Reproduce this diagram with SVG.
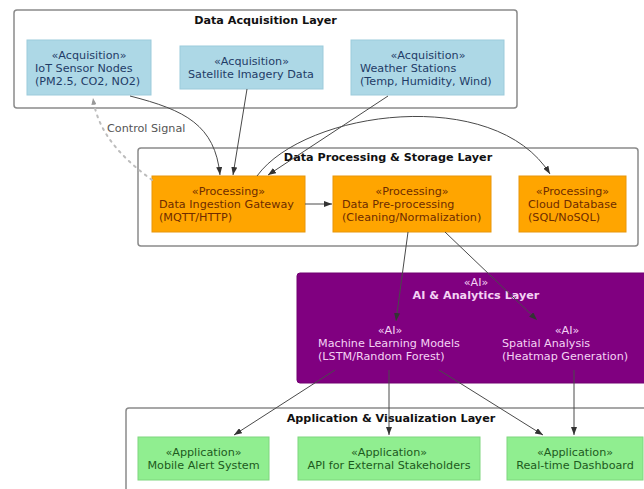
<svg xmlns="http://www.w3.org/2000/svg" width="644" height="489" viewBox="0 0 644 489">
<defs>
<style>
text{font-family:"DejaVu Sans","Liberation Sans",sans-serif;font-size:11.2px}
.title{font-weight:bold;fill:#111;text-anchor:middle}
.cluster{fill:#fff;stroke:#8a8a8a;stroke-width:1.5}
.acq rect{fill:#add8e6;stroke:#9ccbdb;stroke-width:1}
.acq text{fill:#1f3c66}
.proc rect{fill:#ffa500;stroke:#e8960a;stroke-width:1}
.proc text{fill:#6e2c00}
.ai text{fill:#f4d2f4}
.app rect{fill:#90ee90;stroke:#7fd67f;stroke-width:1}
.app text{fill:#1d5a1d}
.c{text-anchor:middle}
.edge{fill:none;stroke:#4a4a4a;stroke-width:1}
.ctrl{fill:none;stroke:#bdbdbd;stroke-width:2;stroke-dasharray:2 5;stroke-linecap:round}
</style>
<marker id="ah" viewBox="0 0 8 6" refX="8" refY="3" markerWidth="8" markerHeight="6" markerUnits="userSpaceOnUse" orient="auto">
<path d="M0,0 L8,3 L0,6 z" fill="#333"/>
</marker>
<marker id="ahg" viewBox="0 0 8 6" refX="8" refY="3" markerWidth="7" markerHeight="5" markerUnits="userSpaceOnUse" orient="auto">
<path d="M0,0 L8,3 L0,6 z" fill="#999"/>
</marker>
</defs>
<rect width="644" height="489" fill="#fff"/>

<g id="cluster-acquisition">
<rect class="cluster" x="14" y="10" width="503" height="98" rx="3"/>
<text class="title" x="265.5" y="24">Data Acquisition Layer</text>
</g>
<g id="cluster-processing">
<rect class="cluster" x="138" y="148" width="500" height="98" rx="3"/>
<text class="title" x="388" y="161">Data Processing &amp; Storage Layer</text>
</g>
<g id="cluster-ai">
<rect x="297" y="273" width="360" height="110" rx="3" fill="#800080" stroke="#700070" stroke-width="1"/>
<text class="c" x="476" y="286" fill="#f4d2f4">«AI»</text>
<text class="title" x="476" y="299" fill="#f4d2f4" style="fill:#f4d2f4">AI &amp; Analytics Layer</text>
</g>
<g id="cluster-application">
<rect class="cluster" x="126" y="408" width="530" height="95" rx="3"/>
<text class="title" x="391" y="422">Application &amp; Visualization Layer</text>
</g>

<g id="iot" class="acq">
<rect x="27" y="40" width="124" height="55"/>
<text class="c" x="89" y="59">«Acquisition»</text>
<text x="35" y="72">IoT Sensor Nodes</text>
<text x="35" y="85">(PM2.5, CO2, NO2)</text>
</g>
<g id="satellite" class="acq">
<rect x="180" y="46" width="143" height="43"/>
<text class="c" x="251.5" y="65">«Acquisition»</text>
<text x="188" y="78">Satellite Imagery Data</text>
</g>
<g id="weather" class="acq">
<rect x="351" y="40" width="153" height="55"/>
<text class="c" x="428" y="59">«Acquisition»</text>
<text x="360" y="72">Weather Stations</text>
<text x="360" y="85">(Temp, Humidity, Wind)</text>
</g>

<g id="gateway" class="proc">
<rect x="152" y="176" width="153" height="56"/>
<text class="c" x="228.5" y="195">«Processing»</text>
<text x="159" y="208">Data Ingestion Gateway</text>
<text x="159" y="221">(MQTT/HTTP)</text>
</g>
<g id="preprocessing" class="proc">
<rect x="333" y="176" width="158" height="56"/>
<text class="c" x="412" y="195">«Processing»</text>
<text x="342" y="208">Data Pre-processing</text>
<text x="342" y="221">(Cleaning/Normalization)</text>
</g>
<g id="clouddb" class="proc">
<rect x="519" y="176" width="107" height="56"/>
<text class="c" x="572.5" y="195">«Processing»</text>
<text x="528" y="208">Cloud Database</text>
<text x="528" y="221">(SQL/NoSQL)</text>
</g>

<g id="ml" class="ai">
<text class="c" x="390" y="334">«AI»</text>
<text x="318" y="347">Machine Learning Models</text>
<text x="318" y="360">(LSTM/Random Forest)</text>
</g>
<g id="spatial" class="ai">
<text class="c" x="567" y="334">«AI»</text>
<text x="502" y="347">Spatial Analysis</text>
<text x="502" y="360">(Heatmap Generation)</text>
</g>

<g id="mobile" class="app">
<rect x="138" y="437" width="131" height="43"/>
<text class="c" x="203.5" y="456">«Application»</text>
<text class="c" x="203.5" y="469">Mobile Alert System</text>
</g>
<g id="api" class="app">
<rect x="298" y="437" width="182" height="43"/>
<text class="c" x="389" y="456">«Application»</text>
<text class="c" x="389" y="469">API for External Stakeholders</text>
</g>
<g id="dashboard" class="app">
<rect x="507" y="437" width="136" height="43"/>
<text class="c" x="575" y="456">«Application»</text>
<text class="c" x="575" y="469">Real-time Dashboard</text>
</g>

<g id="connectors">
<path class="edge" marker-end="url(#ah)" d="M130,96 C185,110 215,125 220,175"/>
<path class="edge" marker-end="url(#ah)" d="M247,89 L233,175"/>
<path class="edge" marker-end="url(#ah)" d="M388,96 L268,175"/>
<path class="edge" marker-end="url(#ah)" d="M257,176 C305,110 495,85 550,174"/>
<path class="edge" marker-end="url(#ah)" d="M305,204 L332,204"/>
<path class="ctrl" marker-end="url(#ahg)" d="M152,180 C125,160 98,135 93,98"/>
<text x="107" y="132" fill="#555" font-size="10.5px">Control Signal</text>
<path class="edge" marker-end="url(#ah)" d="M408,232 L396,321"/>
<path class="edge" marker-end="url(#ah)" d="M445,232 L537,320"/>
<path class="edge" marker-end="url(#ah)" d="M335,370 L234,435"/>
<path class="edge" marker-end="url(#ah)" d="M389,370 L389,435"/>
<path class="edge" marker-end="url(#ah)" d="M439,370 L543,435"/>
<path class="edge" marker-end="url(#ah)" d="M574,370 L574,435"/>
</g>
</svg>
